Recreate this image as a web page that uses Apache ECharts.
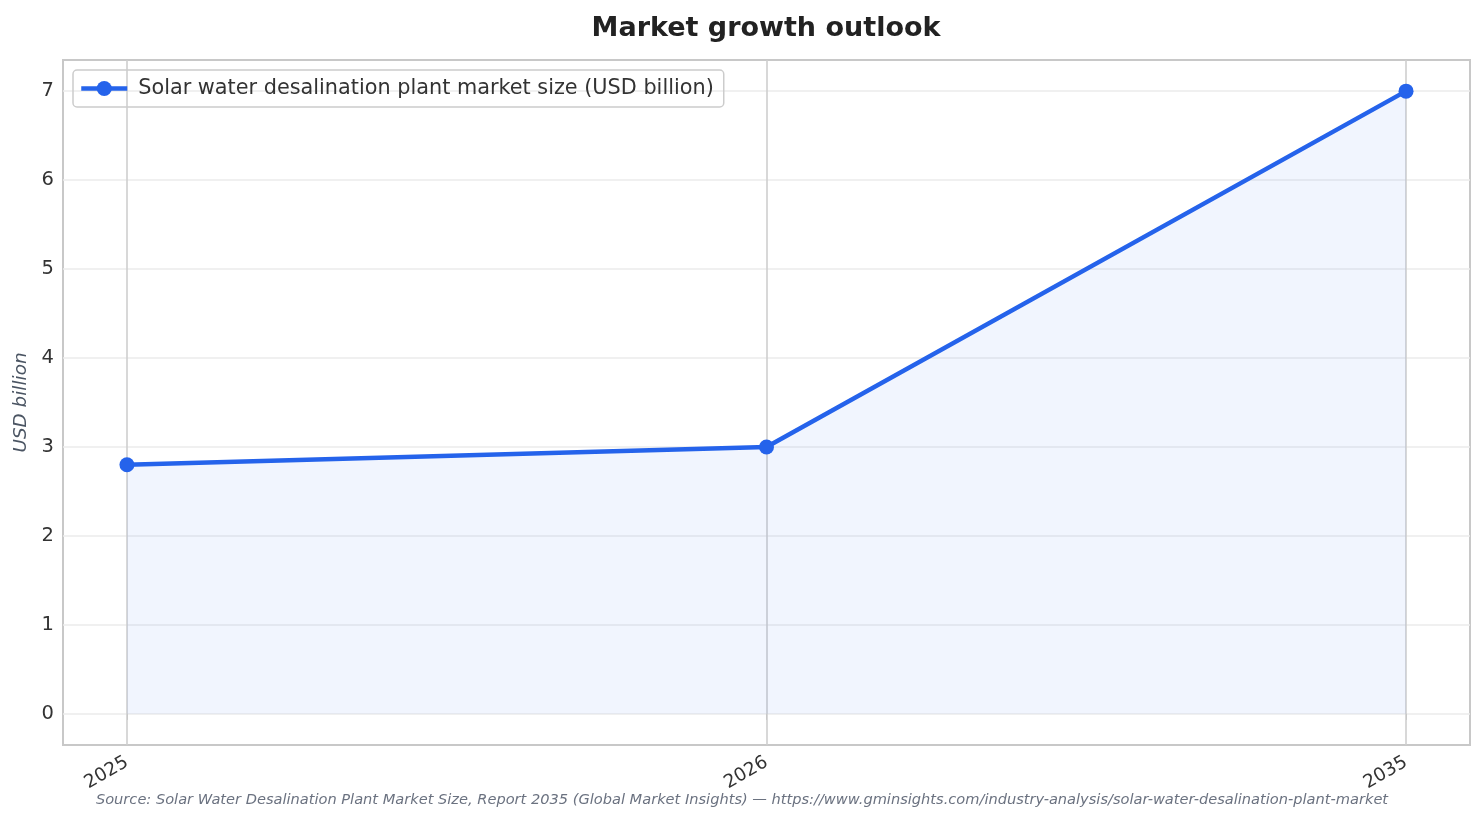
<!DOCTYPE html>
<html><head><meta charset="utf-8">
<script src="https://cdn.jsdelivr.net/npm/echarts@6/dist/echarts.min.js"></script>
<style>html,body{margin:0;padding:0;background:#fff}#c{width:1484px;height:823px}</style>
</head><body><div id="c"></div>
<script>
const categories = ['2025', '2026', '2035'];
const marketSize = [2.8, 3.0, 7.0];
const yTicks = [0, 1, 2, 3, 4, 5, 6, 7];
const xTicks = [0, 1, 2];
const titleText = 'Market growth outlook';
const seriesName = 'Solar water desalination plant market size (USD billion)';
const sourceText = 'Source: Solar Water Desalination Plant Market Size, Report 2035 (Global Market Insights) — https://www.gminsights.com/industry-analysis/solar-water-desalination-plant-market';

const FONT = 'DejaVu Sans';
const chart = echarts.init(document.getElementById('c'));
chart.setOption({
  backgroundColor: '#fff',
  textStyle: { fontFamily: FONT },
  graphic: [{
    type: 'text', x: 766, y: 29,
    style: { text: titleText, font: 'bold 27px "DejaVu Sans"', fill: '#222', textAlign: 'center', textVerticalAlign: 'middle' }
  }, {
    type: 'text', left: 'center', top: 793,
    style: { text: sourceText, font: 'italic 14.6px "DejaVu Sans"', fill: '#6b7280' }
  }],
  legend: {
    left: 73, top: 70, padding: [8, 10, 8, 6],
    borderColor: '#cccccc', borderWidth: 1.5, borderRadius: 4,
    itemWidth: 46, itemHeight: 19, itemGap: 10,
    lineStyle: { width: 4.5 },
    textStyle: { fontFamily: FONT, fontSize: 20.8, color: '#333', padding: [0, 0, 0, 6] },
    data: [seriesName]
  },
  grid: { left: 63, right: 14, top: 60, bottom: 78, show: true, borderColor: '#c8c8c8', borderWidth: 2, backgroundColor: 'transparent' },
  xAxis: {
    type: 'value', min: -0.1, max: 2.1,
    axisLine: { show: false },
    axisTick: { show: true, customValues: xTicks, length: 6, lineStyle: { color: '#c8c8c8' } },
    axisLabel: {
      customValues: xTicks, rotate: 30, margin: 16, fontSize: 18.5, color: '#333', fontFamily: FONT,
      formatter: v => categories[Math.round(v)]
    },
    splitLine: { show: true, lineStyle: { color: '#cfcfcf', width: 1.6 } }
  },
  yAxis: {
    type: 'value', min: -0.35, max: 7.35,
    name: 'USD billion', nameLocation: 'middle', nameGap: 30,
    nameTextStyle: { fontFamily: FONT, fontSize: 18.4, fontStyle: 'italic', color: '#4b5563' },
    axisLine: { show: false },
    axisTick: { show: false, customValues: yTicks },
    axisLabel: { customValues: yTicks, fontSize: 19.5, color: '#333', margin: 9, fontFamily: FONT },
    splitLine: { show: true, lineStyle: { color: '#ebebeb', width: 1.6 } }
  },
  series: [{
    name: seriesName, type: 'line',
    data: marketSize.map((v, i) => [i, v]),
    symbol: 'circle', symbolSize: 15,
    lineStyle: { color: '#2563eb', width: 4.5 },
    itemStyle: { color: '#2563eb' },
    areaStyle: { color: 'rgba(37,99,235,0.09)', origin: 0 },
    z: 3
  }]
});
</script></body></html>
